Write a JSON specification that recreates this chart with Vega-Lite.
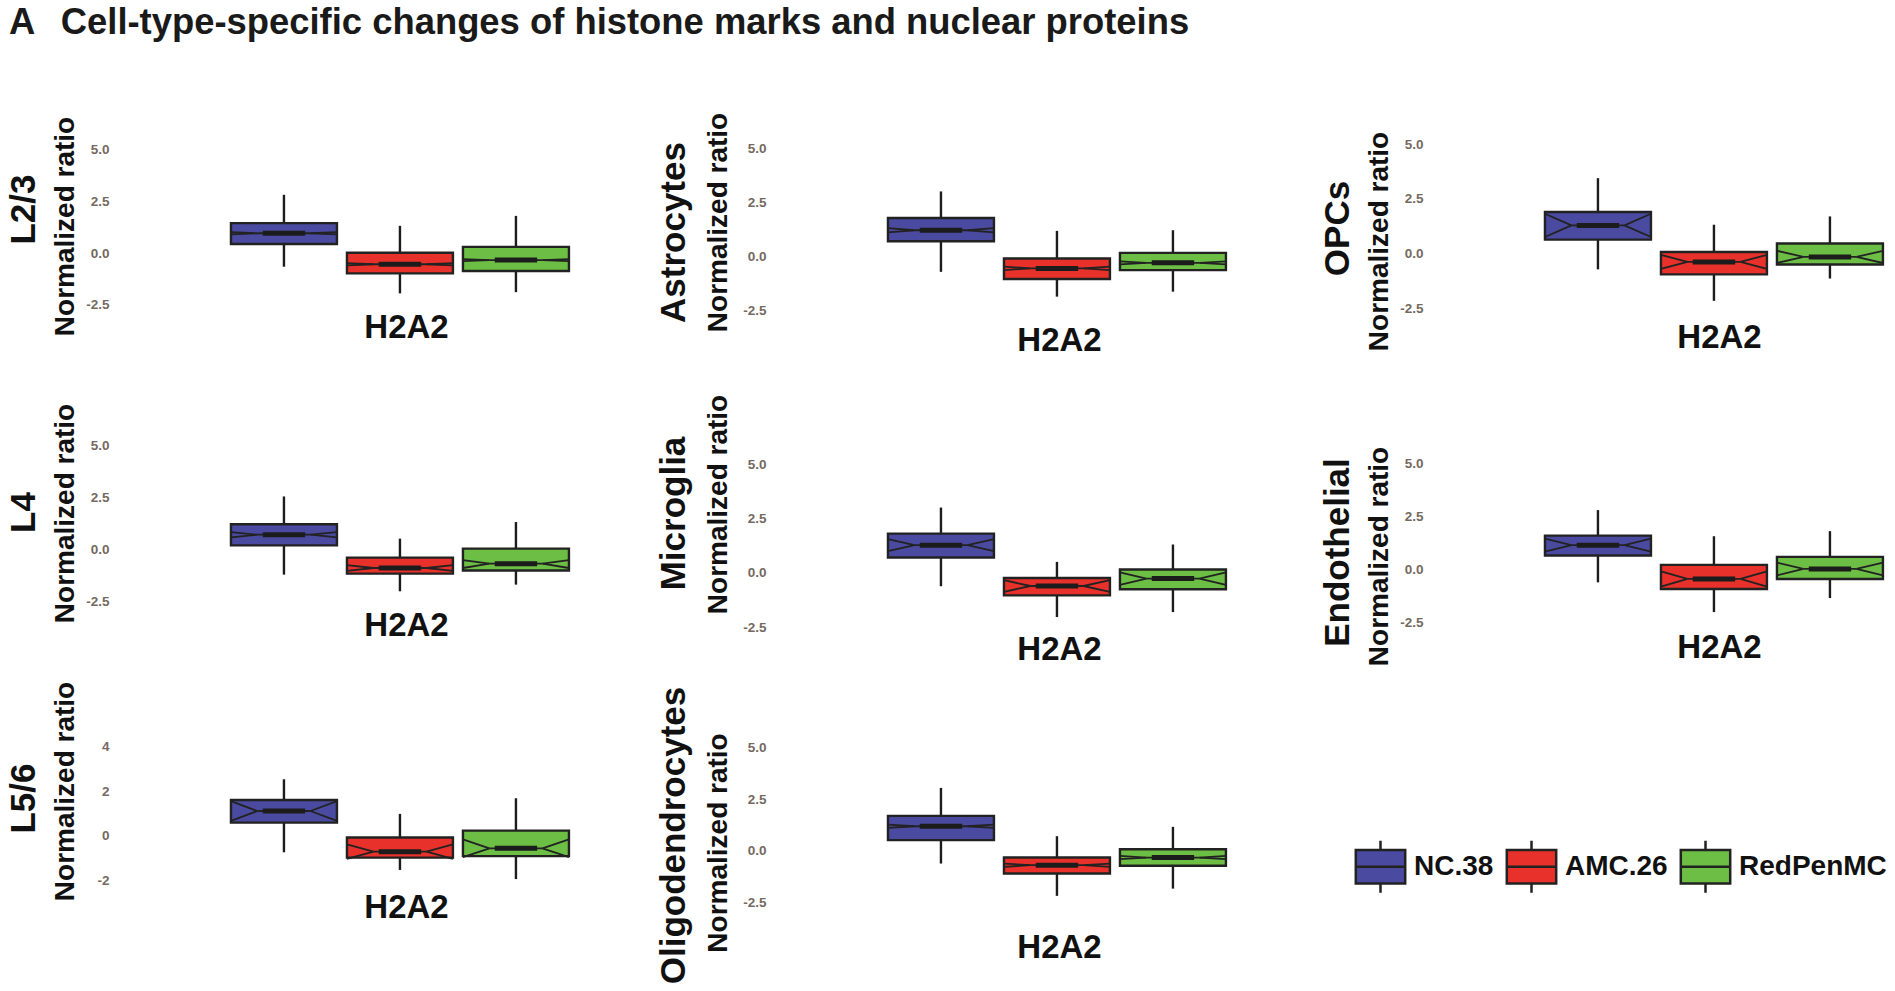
{
"$schema": "https://vega.github.io/schema/vega-lite/v6.json",
"padding": {"left": 6, "top": 4, "right": 0, "bottom": 0},
"background": "white",
"title": {"text": "A\u2002\u2009Cell-type-specific changes of histone marks and nuclear proteins", "anchor": "start", "frame": "bounds", "fontSize": 36.4, "fontWeight": "bold", "font": "Liberation Sans", "color": "#1a1a1a", "offset": 71.4, "dx": 3},
"datasets": {"boxes": [
{"cell": "L2/3", "group": "NC.38", "lo": -0.65, "q1": 0.45, "nlo": 0.92, "med": 0.97, "nhi": 1.02, "q3": 1.46, "hi": 2.83},
{"cell": "L2/3", "group": "AMC.26", "lo": -1.94, "q1": -0.97, "nlo": -0.58, "med": -0.53, "nhi": -0.48, "q3": 0.03, "hi": 1.33},
{"cell": "L2/3", "group": "RedPenMC", "lo": -1.88, "q1": -0.86, "nlo": -0.38, "med": -0.33, "nhi": -0.28, "q3": 0.31, "hi": 1.81},
{"cell": "Astrocytes", "group": "NC.38", "lo": -0.73, "q1": 0.69, "nlo": 1.1, "med": 1.2, "nhi": 1.3, "q3": 1.77, "hi": 3.0},
{"cell": "Astrocytes", "group": "AMC.26", "lo": -1.88, "q1": -1.06, "nlo": -0.65, "med": -0.57, "nhi": -0.49, "q3": -0.11, "hi": 1.17},
{"cell": "Astrocytes", "group": "RedPenMC", "lo": -1.65, "q1": -0.65, "nlo": -0.38, "med": -0.31, "nhi": -0.24, "q3": 0.15, "hi": 1.2},
{"cell": "OPCs", "group": "NC.38", "lo": -0.72, "q1": 0.64, "nlo": 0.76, "med": 1.29, "nhi": 1.82, "q3": 1.9, "hi": 3.45},
{"cell": "OPCs", "group": "AMC.26", "lo": -2.16, "q1": -0.95, "nlo": -0.7, "med": -0.38, "nhi": -0.06, "q3": 0.07, "hi": 1.32},
{"cell": "OPCs", "group": "RedPenMC", "lo": -1.14, "q1": -0.5, "nlo": -0.43, "med": -0.15, "nhi": 0.13, "q3": 0.46, "hi": 1.7},
{"cell": "L4", "group": "NC.38", "lo": -1.2, "q1": 0.21, "nlo": 0.59, "med": 0.72, "nhi": 0.85, "q3": 1.22, "hi": 2.56},
{"cell": "L4", "group": "AMC.26", "lo": -2.0, "q1": -1.15, "nlo": -1.02, "med": -0.88, "nhi": -0.74, "q3": -0.38, "hi": 0.53},
{"cell": "L4", "group": "RedPenMC", "lo": -1.68, "q1": -1.0, "nlo": -0.88, "med": -0.67, "nhi": -0.5, "q3": 0.05, "hi": 1.33},
{"cell": "Microglia", "group": "NC.38", "lo": -0.61, "q1": 0.71, "nlo": 1.0, "med": 1.28, "nhi": 1.56, "q3": 1.81, "hi": 3.01},
{"cell": "Microglia", "group": "AMC.26", "lo": -2.03, "q1": -1.03, "nlo": -0.87, "med": -0.6, "nhi": -0.33, "q3": -0.23, "hi": 0.51},
{"cell": "Microglia", "group": "RedPenMC", "lo": -1.8, "q1": -0.75, "nlo": -0.55, "med": -0.26, "nhi": 0.03, "q3": 0.16, "hi": 1.31},
{"cell": "Endothelial", "group": "NC.38", "lo": -0.6, "q1": 0.66, "nlo": 0.84, "med": 1.15, "nhi": 1.46, "q3": 1.6, "hi": 2.8},
{"cell": "Endothelial", "group": "AMC.26", "lo": -2.0, "q1": -0.91, "nlo": -0.8, "med": -0.44, "nhi": -0.08, "q3": 0.22, "hi": 1.57},
{"cell": "Endothelial", "group": "RedPenMC", "lo": -1.34, "q1": -0.44, "nlo": -0.27, "med": 0.03, "nhi": 0.33, "q3": 0.6, "hi": 1.81},
{"cell": "L5/6", "group": "NC.38", "lo": -0.73, "q1": 0.6, "nlo": 0.68, "med": 1.12, "nhi": 1.56, "q3": 1.61, "hi": 2.54},
{"cell": "L5/6", "group": "AMC.26", "lo": -1.52, "q1": -0.97, "nlo": -1.02, "med": -0.7, "nhi": -0.38, "q3": -0.07, "hi": 0.99},
{"cell": "L5/6", "group": "RedPenMC", "lo": -1.93, "q1": -0.9, "nlo": -0.95, "med": -0.55, "nhi": -0.15, "q3": 0.24, "hi": 1.69},
{"cell": "Oligodendrocytes", "group": "NC.38", "lo": -0.61, "q1": 0.52, "nlo": 1.11, "med": 1.19, "nhi": 1.27, "q3": 1.69, "hi": 3.04},
{"cell": "Oligodendrocytes", "group": "AMC.26", "lo": -2.17, "q1": -1.09, "nlo": -0.77, "med": -0.69, "nhi": -0.61, "q3": -0.32, "hi": 0.71},
{"cell": "Oligodendrocytes", "group": "RedPenMC", "lo": -1.82, "q1": -0.72, "nlo": -0.4, "med": -0.32, "nhi": -0.24, "q3": 0.08, "hi": 1.16}
]},
"data": {"name": "boxes"},
"columns": 3,
"spacing": {"row": 100, "column": 195},
"bounds": "flush",
"concat": [
{"width": 462, "height": 190,
 "transform": [{"filter": {"field": "cell", "equal": "L2/3"}}],
 "resolve": {"axis": {"x": "independent", "y": "independent"}},
 "layer": [
  {"mark": {"type": "rule", "color": "#1c1c1c", "strokeWidth": 2.4},
   "encoding": {
    "x": {"field": "group", "type": "nominal", "sort": ["NC.38","AMC.26","RedPenMC"], "scale": {"paddingInner": 0.0862, "paddingOuter": 0.5346, "align": 0.935}, "axis": {"orient": "bottom", "title": "H2A2", "labels": false, "titleX": 291, "titleY": 19, "titleAlign": "center", "titleBaseline": "alphabetic", "titleAngle": 0, "titleFontSize": 33}},
    "y": {"field": "lo", "type": "quantitative", "scale": {"domain": [-3.131, 6.063], "nice": false, "zero": false}, "axis": {"title": "Normalized ratio", "values": [-2.5, 0, 2.5, 5], "labelExpr": "datum.value < 0 ? '-' + format(-datum.value, '.1f') : format(datum.value, '.1f')", "titleX": -42, "titleY": 98, "titleAngle": -90, "titleAlign": "center", "titleBaseline": "alphabetic", "titleFontSize": 28}},
    "y2": {"field": "hi"}}},
  {"mark": {"type": "bar", "stroke": "#222222", "strokeWidth": 2.4},
   "encoding": {
    "x": {"field": "group", "type": "nominal", "sort": ["NC.38","AMC.26","RedPenMC"], "axis": {"orient": "top", "title": "L2/3", "labels": false, "titleX": -81, "titleY": 81, "titleAngle": -90, "titleAlign": "center", "titleBaseline": "alphabetic", "titleFontSize": 35}},
    "y": {"field": "q1", "type": "quantitative", "axis": null},
    "y2": {"field": "q3"},
    "color": {"field": "group", "type": "nominal", "sort": ["NC.38","AMC.26","RedPenMC"], "scale": {"domain": ["NC.38","AMC.26","RedPenMC"], "range": ["#4a4aa0","#e8312a","#6cbe45"]}, "legend": {"orient": "none", "legendX": 1238, "legendY": 711, "title": null, "direction": "horizontal"}}}},
  {"transform": [{"fold": ["nlo","nhi"], "as": ["k","nv"]}],
   "mark": {"type": "rule", "color": "#222222", "strokeWidth": 1.8},
   "encoding": {"x": {"field": "group", "type": "nominal", "sort": ["NC.38","AMC.26","RedPenMC"], "bandPosition": 0, "axis": null}, "x2": {"field": "group", "bandPosition": 0.25}, "y": {"field": "nv", "type": "quantitative", "axis": null}, "y2": {"field": "med"}}},
  {"transform": [{"fold": ["nlo","nhi"], "as": ["k","nv"]}],
   "mark": {"type": "rule", "color": "#222222", "strokeWidth": 1.8},
   "encoding": {"x": {"field": "group", "type": "nominal", "sort": ["NC.38","AMC.26","RedPenMC"], "bandPosition": 1, "axis": null}, "x2": {"field": "group", "bandPosition": 0.75}, "y": {"field": "nv", "type": "quantitative", "axis": null}, "y2": {"field": "med"}}},
  {"mark": {"type": "rule", "color": "#222222", "strokeWidth": 1.8},
   "encoding": {"x": {"field": "group", "type": "nominal", "sort": ["NC.38","AMC.26","RedPenMC"], "bandPosition": 0.25, "axis": null}, "x2": {"field": "group", "bandPosition": 0.75}, "y": {"field": "med", "type": "quantitative", "axis": null}}},
  {"mark": {"type": "rule", "color": "#1c1c1c", "strokeWidth": 5},
   "encoding": {"x": {"field": "group", "type": "nominal", "sort": ["NC.38","AMC.26","RedPenMC"], "bandPosition": 0.3, "axis": null}, "x2": {"field": "group", "bandPosition": 0.7}, "y": {"field": "med", "type": "quantitative", "axis": null}}}
 ]},
{"width": 462, "height": 190,
 "transform": [{"filter": {"field": "cell", "equal": "Astrocytes"}}],
 "resolve": {"axis": {"x": "independent", "y": "independent"}},
 "layer": [
  {"mark": {"type": "rule", "color": "#1c1c1c", "strokeWidth": 2.4},
   "encoding": {
    "x": {"field": "group", "type": "nominal", "sort": ["NC.38","AMC.26","RedPenMC"], "scale": {"paddingInner": 0.0862, "paddingOuter": 0.5346, "align": 0.935}, "axis": {"orient": "bottom", "title": "H2A2", "labels": false, "titleX": 287, "titleY": 32, "titleAlign": "center", "titleBaseline": "alphabetic", "titleAngle": 0, "titleFontSize": 33}},
    "y": {"field": "lo", "type": "quantitative", "scale": {"domain": [-2.871, 5.942], "nice": false, "zero": false}, "axis": {"title": "Normalized ratio", "values": [-2.5, 0, 2.5, 5], "labelExpr": "datum.value < 0 ? '-' + format(-datum.value, '.1f') : format(datum.value, '.1f')", "titleX": -46, "titleY": 94, "titleAngle": -90, "titleAlign": "center", "titleBaseline": "alphabetic", "titleFontSize": 28}},
    "y2": {"field": "hi"}}},
  {"mark": {"type": "bar", "stroke": "#222222", "strokeWidth": 2.4},
   "encoding": {
    "x": {"field": "group", "type": "nominal", "sort": ["NC.38","AMC.26","RedPenMC"], "axis": {"orient": "top", "title": "Astrocytes", "labels": false, "titleX": -88, "titleY": 104, "titleAngle": -90, "titleAlign": "center", "titleBaseline": "alphabetic", "titleFontSize": 35}},
    "y": {"field": "q1", "type": "quantitative", "axis": null},
    "y2": {"field": "q3"},
    "color": {"field": "group", "type": "nominal", "sort": ["NC.38","AMC.26","RedPenMC"], "scale": {"domain": ["NC.38","AMC.26","RedPenMC"], "range": ["#4a4aa0","#e8312a","#6cbe45"]}, "legend": {"orient": "none", "legendX": 1238, "legendY": 711, "title": null, "direction": "horizontal"}}}},
  {"transform": [{"fold": ["nlo","nhi"], "as": ["k","nv"]}],
   "mark": {"type": "rule", "color": "#222222", "strokeWidth": 1.8},
   "encoding": {"x": {"field": "group", "type": "nominal", "sort": ["NC.38","AMC.26","RedPenMC"], "bandPosition": 0, "axis": null}, "x2": {"field": "group", "bandPosition": 0.25}, "y": {"field": "nv", "type": "quantitative", "axis": null}, "y2": {"field": "med"}}},
  {"transform": [{"fold": ["nlo","nhi"], "as": ["k","nv"]}],
   "mark": {"type": "rule", "color": "#222222", "strokeWidth": 1.8},
   "encoding": {"x": {"field": "group", "type": "nominal", "sort": ["NC.38","AMC.26","RedPenMC"], "bandPosition": 1, "axis": null}, "x2": {"field": "group", "bandPosition": 0.75}, "y": {"field": "nv", "type": "quantitative", "axis": null}, "y2": {"field": "med"}}},
  {"mark": {"type": "rule", "color": "#222222", "strokeWidth": 1.8},
   "encoding": {"x": {"field": "group", "type": "nominal", "sort": ["NC.38","AMC.26","RedPenMC"], "bandPosition": 0.25, "axis": null}, "x2": {"field": "group", "bandPosition": 0.75}, "y": {"field": "med", "type": "quantitative", "axis": null}}},
  {"mark": {"type": "rule", "color": "#1c1c1c", "strokeWidth": 5},
   "encoding": {"x": {"field": "group", "type": "nominal", "sort": ["NC.38","AMC.26","RedPenMC"], "bandPosition": 0.3, "axis": null}, "x2": {"field": "group", "bandPosition": 0.7}, "y": {"field": "med", "type": "quantitative", "axis": null}}}
 ]},
{"width": 462, "height": 190,
 "transform": [{"filter": {"field": "cell", "equal": "OPCs"}}],
 "resolve": {"axis": {"x": "independent", "y": "independent"}},
 "layer": [
  {"mark": {"type": "rule", "color": "#1c1c1c", "strokeWidth": 2.4},
   "encoding": {
    "x": {"field": "group", "type": "nominal", "sort": ["NC.38","AMC.26","RedPenMC"], "scale": {"paddingInner": 0.0862, "paddingOuter": 0.5346, "align": 0.935}, "axis": {"orient": "bottom", "title": "H2A2", "labels": false, "titleX": 290, "titleY": 29, "titleAlign": "center", "titleBaseline": "alphabetic", "titleAngle": 0, "titleFontSize": 33}},
    "y": {"field": "lo", "type": "quantitative", "scale": {"domain": [-2.945, 5.743], "nice": false, "zero": false}, "axis": {"title": "Normalized ratio", "values": [-2.5, 0, 2.5, 5], "labelExpr": "datum.value < 0 ? '-' + format(-datum.value, '.1f') : format(datum.value, '.1f')", "titleX": -42, "titleY": 113, "titleAngle": -90, "titleAlign": "center", "titleBaseline": "alphabetic", "titleFontSize": 28}},
    "y2": {"field": "hi"}}},
  {"mark": {"type": "bar", "stroke": "#222222", "strokeWidth": 2.4},
   "encoding": {
    "x": {"field": "group", "type": "nominal", "sort": ["NC.38","AMC.26","RedPenMC"], "axis": {"orient": "top", "title": "OPCs", "labels": false, "titleX": -81, "titleY": 100, "titleAngle": -90, "titleAlign": "center", "titleBaseline": "alphabetic", "titleFontSize": 35}},
    "y": {"field": "q1", "type": "quantitative", "axis": null},
    "y2": {"field": "q3"},
    "color": {"field": "group", "type": "nominal", "sort": ["NC.38","AMC.26","RedPenMC"], "scale": {"domain": ["NC.38","AMC.26","RedPenMC"], "range": ["#4a4aa0","#e8312a","#6cbe45"]}, "legend": {"orient": "none", "legendX": 1238, "legendY": 711, "title": null, "direction": "horizontal"}}}},
  {"transform": [{"fold": ["nlo","nhi"], "as": ["k","nv"]}],
   "mark": {"type": "rule", "color": "#222222", "strokeWidth": 1.8},
   "encoding": {"x": {"field": "group", "type": "nominal", "sort": ["NC.38","AMC.26","RedPenMC"], "bandPosition": 0, "axis": null}, "x2": {"field": "group", "bandPosition": 0.25}, "y": {"field": "nv", "type": "quantitative", "axis": null}, "y2": {"field": "med"}}},
  {"transform": [{"fold": ["nlo","nhi"], "as": ["k","nv"]}],
   "mark": {"type": "rule", "color": "#222222", "strokeWidth": 1.8},
   "encoding": {"x": {"field": "group", "type": "nominal", "sort": ["NC.38","AMC.26","RedPenMC"], "bandPosition": 1, "axis": null}, "x2": {"field": "group", "bandPosition": 0.75}, "y": {"field": "nv", "type": "quantitative", "axis": null}, "y2": {"field": "med"}}},
  {"mark": {"type": "rule", "color": "#222222", "strokeWidth": 1.8},
   "encoding": {"x": {"field": "group", "type": "nominal", "sort": ["NC.38","AMC.26","RedPenMC"], "bandPosition": 0.25, "axis": null}, "x2": {"field": "group", "bandPosition": 0.75}, "y": {"field": "med", "type": "quantitative", "axis": null}}},
  {"mark": {"type": "rule", "color": "#1c1c1c", "strokeWidth": 5},
   "encoding": {"x": {"field": "group", "type": "nominal", "sort": ["NC.38","AMC.26","RedPenMC"], "bandPosition": 0.3, "axis": null}, "x2": {"field": "group", "bandPosition": 0.7}, "y": {"field": "med", "type": "quantitative", "axis": null}}}
 ]},
{"width": 462, "height": 215,
 "transform": [{"filter": {"field": "cell", "equal": "L4"}}],
 "resolve": {"axis": {"x": "independent", "y": "independent"}},
 "layer": [
  {"mark": {"type": "rule", "color": "#1c1c1c", "strokeWidth": 2.4},
   "encoding": {
    "x": {"field": "group", "type": "nominal", "sort": ["NC.38","AMC.26","RedPenMC"], "scale": {"paddingInner": 0.0862, "paddingOuter": 0.5346, "align": 0.935}, "axis": {"orient": "bottom", "title": "H2A2", "labels": false, "titleX": 291, "titleY": 2, "titleAlign": "center", "titleBaseline": "alphabetic", "titleAngle": 0, "titleFontSize": 33}},
    "y": {"field": "lo", "type": "quantitative", "scale": {"domain": [-4.005, 6.332], "nice": false, "zero": false}, "axis": {"title": "Normalized ratio", "values": [-2.5, 0, 2.5, 5], "labelExpr": "datum.value < 0 ? '-' + format(-datum.value, '.1f') : format(datum.value, '.1f')", "titleX": -42, "titleY": 95, "titleAngle": -90, "titleAlign": "center", "titleBaseline": "alphabetic", "titleFontSize": 28}},
    "y2": {"field": "hi"}}},
  {"mark": {"type": "bar", "stroke": "#222222", "strokeWidth": 2.4},
   "encoding": {
    "x": {"field": "group", "type": "nominal", "sort": ["NC.38","AMC.26","RedPenMC"], "axis": {"orient": "top", "title": "L4", "labels": false, "titleX": -81, "titleY": 94, "titleAngle": -90, "titleAlign": "center", "titleBaseline": "alphabetic", "titleFontSize": 35}},
    "y": {"field": "q1", "type": "quantitative", "axis": null},
    "y2": {"field": "q3"},
    "color": {"field": "group", "type": "nominal", "sort": ["NC.38","AMC.26","RedPenMC"], "scale": {"domain": ["NC.38","AMC.26","RedPenMC"], "range": ["#4a4aa0","#e8312a","#6cbe45"]}, "legend": {"orient": "none", "legendX": 1238, "legendY": 711, "title": null, "direction": "horizontal"}}}},
  {"transform": [{"fold": ["nlo","nhi"], "as": ["k","nv"]}],
   "mark": {"type": "rule", "color": "#222222", "strokeWidth": 1.8},
   "encoding": {"x": {"field": "group", "type": "nominal", "sort": ["NC.38","AMC.26","RedPenMC"], "bandPosition": 0, "axis": null}, "x2": {"field": "group", "bandPosition": 0.25}, "y": {"field": "nv", "type": "quantitative", "axis": null}, "y2": {"field": "med"}}},
  {"transform": [{"fold": ["nlo","nhi"], "as": ["k","nv"]}],
   "mark": {"type": "rule", "color": "#222222", "strokeWidth": 1.8},
   "encoding": {"x": {"field": "group", "type": "nominal", "sort": ["NC.38","AMC.26","RedPenMC"], "bandPosition": 1, "axis": null}, "x2": {"field": "group", "bandPosition": 0.75}, "y": {"field": "nv", "type": "quantitative", "axis": null}, "y2": {"field": "med"}}},
  {"mark": {"type": "rule", "color": "#222222", "strokeWidth": 1.8},
   "encoding": {"x": {"field": "group", "type": "nominal", "sort": ["NC.38","AMC.26","RedPenMC"], "bandPosition": 0.25, "axis": null}, "x2": {"field": "group", "bandPosition": 0.75}, "y": {"field": "med", "type": "quantitative", "axis": null}}},
  {"mark": {"type": "rule", "color": "#1c1c1c", "strokeWidth": 5},
   "encoding": {"x": {"field": "group", "type": "nominal", "sort": ["NC.38","AMC.26","RedPenMC"], "bandPosition": 0.3, "axis": null}, "x2": {"field": "group", "bandPosition": 0.7}, "y": {"field": "med", "type": "quantitative", "axis": null}}}
 ]},
{"width": 462, "height": 215,
 "transform": [{"filter": {"field": "cell", "equal": "Microglia"}}],
 "resolve": {"axis": {"x": "independent", "y": "independent"}},
 "layer": [
  {"mark": {"type": "rule", "color": "#1c1c1c", "strokeWidth": 2.4},
   "encoding": {
    "x": {"field": "group", "type": "nominal", "sort": ["NC.38","AMC.26","RedPenMC"], "scale": {"paddingInner": 0.0862, "paddingOuter": 0.5346, "align": 0.935}, "axis": {"orient": "bottom", "title": "H2A2", "labels": false, "titleX": 287, "titleY": 26, "titleAlign": "center", "titleBaseline": "alphabetic", "titleAngle": 0, "titleFontSize": 33}},
    "y": {"field": "lo", "type": "quantitative", "scale": {"domain": [-2.763, 7.132], "nice": false, "zero": false}, "axis": {"title": "Normalized ratio", "values": [-2.5, 0, 2.5, 5], "labelExpr": "datum.value < 0 ? '-' + format(-datum.value, '.1f') : format(datum.value, '.1f')", "titleX": -46, "titleY": 86, "titleAngle": -90, "titleAlign": "center", "titleBaseline": "alphabetic", "titleFontSize": 28}},
    "y2": {"field": "hi"}}},
  {"mark": {"type": "bar", "stroke": "#222222", "strokeWidth": 2.4},
   "encoding": {
    "x": {"field": "group", "type": "nominal", "sort": ["NC.38","AMC.26","RedPenMC"], "axis": {"orient": "top", "title": "Microglia", "labels": false, "titleX": -88, "titleY": 95, "titleAngle": -90, "titleAlign": "center", "titleBaseline": "alphabetic", "titleFontSize": 35}},
    "y": {"field": "q1", "type": "quantitative", "axis": null},
    "y2": {"field": "q3"},
    "color": {"field": "group", "type": "nominal", "sort": ["NC.38","AMC.26","RedPenMC"], "scale": {"domain": ["NC.38","AMC.26","RedPenMC"], "range": ["#4a4aa0","#e8312a","#6cbe45"]}, "legend": {"orient": "none", "legendX": 1238, "legendY": 711, "title": null, "direction": "horizontal"}}}},
  {"transform": [{"fold": ["nlo","nhi"], "as": ["k","nv"]}],
   "mark": {"type": "rule", "color": "#222222", "strokeWidth": 1.8},
   "encoding": {"x": {"field": "group", "type": "nominal", "sort": ["NC.38","AMC.26","RedPenMC"], "bandPosition": 0, "axis": null}, "x2": {"field": "group", "bandPosition": 0.25}, "y": {"field": "nv", "type": "quantitative", "axis": null}, "y2": {"field": "med"}}},
  {"transform": [{"fold": ["nlo","nhi"], "as": ["k","nv"]}],
   "mark": {"type": "rule", "color": "#222222", "strokeWidth": 1.8},
   "encoding": {"x": {"field": "group", "type": "nominal", "sort": ["NC.38","AMC.26","RedPenMC"], "bandPosition": 1, "axis": null}, "x2": {"field": "group", "bandPosition": 0.75}, "y": {"field": "nv", "type": "quantitative", "axis": null}, "y2": {"field": "med"}}},
  {"mark": {"type": "rule", "color": "#222222", "strokeWidth": 1.8},
   "encoding": {"x": {"field": "group", "type": "nominal", "sort": ["NC.38","AMC.26","RedPenMC"], "bandPosition": 0.25, "axis": null}, "x2": {"field": "group", "bandPosition": 0.75}, "y": {"field": "med", "type": "quantitative", "axis": null}}},
  {"mark": {"type": "rule", "color": "#1c1c1c", "strokeWidth": 5},
   "encoding": {"x": {"field": "group", "type": "nominal", "sort": ["NC.38","AMC.26","RedPenMC"], "bandPosition": 0.3, "axis": null}, "x2": {"field": "group", "bandPosition": 0.7}, "y": {"field": "med", "type": "quantitative", "axis": null}}}
 ]},
{"width": 462, "height": 215,
 "transform": [{"filter": {"field": "cell", "equal": "Endothelial"}}],
 "resolve": {"axis": {"x": "independent", "y": "independent"}},
 "layer": [
  {"mark": {"type": "rule", "color": "#1c1c1c", "strokeWidth": 2.4},
   "encoding": {
    "x": {"field": "group", "type": "nominal", "sort": ["NC.38","AMC.26","RedPenMC"], "scale": {"paddingInner": 0.0862, "paddingOuter": 0.5346, "align": 0.935}, "axis": {"orient": "bottom", "title": "H2A2", "labels": false, "titleX": 290, "titleY": 24, "titleAlign": "center", "titleBaseline": "alphabetic", "titleAngle": 0, "titleFontSize": 33}},
    "y": {"field": "lo", "type": "quantitative", "scale": {"domain": [-2.984, 7.134], "nice": false, "zero": false}, "axis": {"title": "Normalized ratio", "values": [-2.5, 0, 2.5, 5], "labelExpr": "datum.value < 0 ? '-' + format(-datum.value, '.1f') : format(datum.value, '.1f')", "titleX": -42, "titleY": 138, "titleAngle": -90, "titleAlign": "center", "titleBaseline": "alphabetic", "titleFontSize": 28}},
    "y2": {"field": "hi"}}},
  {"mark": {"type": "bar", "stroke": "#222222", "strokeWidth": 2.4},
   "encoding": {
    "x": {"field": "group", "type": "nominal", "sort": ["NC.38","AMC.26","RedPenMC"], "axis": {"orient": "top", "title": "Endothelial", "labels": false, "titleX": -81, "titleY": 134, "titleAngle": -90, "titleAlign": "center", "titleBaseline": "alphabetic", "titleFontSize": 35}},
    "y": {"field": "q1", "type": "quantitative", "axis": null},
    "y2": {"field": "q3"},
    "color": {"field": "group", "type": "nominal", "sort": ["NC.38","AMC.26","RedPenMC"], "scale": {"domain": ["NC.38","AMC.26","RedPenMC"], "range": ["#4a4aa0","#e8312a","#6cbe45"]}, "legend": {"orient": "none", "legendX": 1238, "legendY": 711, "title": null, "direction": "horizontal"}}}},
  {"transform": [{"fold": ["nlo","nhi"], "as": ["k","nv"]}],
   "mark": {"type": "rule", "color": "#222222", "strokeWidth": 1.8},
   "encoding": {"x": {"field": "group", "type": "nominal", "sort": ["NC.38","AMC.26","RedPenMC"], "bandPosition": 0, "axis": null}, "x2": {"field": "group", "bandPosition": 0.25}, "y": {"field": "nv", "type": "quantitative", "axis": null}, "y2": {"field": "med"}}},
  {"transform": [{"fold": ["nlo","nhi"], "as": ["k","nv"]}],
   "mark": {"type": "rule", "color": "#222222", "strokeWidth": 1.8},
   "encoding": {"x": {"field": "group", "type": "nominal", "sort": ["NC.38","AMC.26","RedPenMC"], "bandPosition": 1, "axis": null}, "x2": {"field": "group", "bandPosition": 0.75}, "y": {"field": "nv", "type": "quantitative", "axis": null}, "y2": {"field": "med"}}},
  {"mark": {"type": "rule", "color": "#222222", "strokeWidth": 1.8},
   "encoding": {"x": {"field": "group", "type": "nominal", "sort": ["NC.38","AMC.26","RedPenMC"], "bandPosition": 0.25, "axis": null}, "x2": {"field": "group", "bandPosition": 0.75}, "y": {"field": "med", "type": "quantitative", "axis": null}}},
  {"mark": {"type": "rule", "color": "#1c1c1c", "strokeWidth": 5},
   "encoding": {"x": {"field": "group", "type": "nominal", "sort": ["NC.38","AMC.26","RedPenMC"], "bandPosition": 0.3, "axis": null}, "x2": {"field": "group", "bandPosition": 0.7}, "y": {"field": "med", "type": "quantitative", "axis": null}}}
 ]},
{"width": 462, "height": 180,
 "transform": [{"filter": {"field": "cell", "equal": "L5/6"}}],
 "resolve": {"axis": {"x": "independent", "y": "independent"}},
 "layer": [
  {"mark": {"type": "rule", "color": "#1c1c1c", "strokeWidth": 2.4},
   "encoding": {
    "x": {"field": "group", "type": "nominal", "sort": ["NC.38","AMC.26","RedPenMC"], "scale": {"paddingInner": 0.0862, "paddingOuter": 0.5346, "align": 0.935}, "axis": {"orient": "bottom", "title": "H2A2", "labels": false, "titleX": 291, "titleY": 4, "titleAlign": "center", "titleBaseline": "alphabetic", "titleAngle": 0, "titleFontSize": 33}},
    "y": {"field": "lo", "type": "quantitative", "scale": {"domain": [-3.448, 4.612], "nice": false, "zero": false}, "axis": {"title": "Normalized ratio", "values": [-2, 0, 2, 4], "labelExpr": "datum.value < 0 ? '-' + format(-datum.value, 'd') : format(datum.value, 'd')", "titleX": -42, "titleY": 58, "titleAngle": -90, "titleAlign": "center", "titleBaseline": "alphabetic", "titleFontSize": 28}},
    "y2": {"field": "hi"}}},
  {"mark": {"type": "bar", "stroke": "#222222", "strokeWidth": 2.4},
   "encoding": {
    "x": {"field": "group", "type": "nominal", "sort": ["NC.38","AMC.26","RedPenMC"], "axis": {"orient": "top", "title": "L5/6", "labels": false, "titleX": -81, "titleY": 65, "titleAngle": -90, "titleAlign": "center", "titleBaseline": "alphabetic", "titleFontSize": 35}},
    "y": {"field": "q1", "type": "quantitative", "axis": null},
    "y2": {"field": "q3"},
    "color": {"field": "group", "type": "nominal", "sort": ["NC.38","AMC.26","RedPenMC"], "scale": {"domain": ["NC.38","AMC.26","RedPenMC"], "range": ["#4a4aa0","#e8312a","#6cbe45"]}, "legend": {"orient": "none", "legendX": 1238, "legendY": 711, "title": null, "direction": "horizontal"}}}},
  {"transform": [{"fold": ["nlo","nhi"], "as": ["k","nv"]}],
   "mark": {"type": "rule", "color": "#222222", "strokeWidth": 1.8},
   "encoding": {"x": {"field": "group", "type": "nominal", "sort": ["NC.38","AMC.26","RedPenMC"], "bandPosition": 0, "axis": null}, "x2": {"field": "group", "bandPosition": 0.25}, "y": {"field": "nv", "type": "quantitative", "axis": null}, "y2": {"field": "med"}}},
  {"transform": [{"fold": ["nlo","nhi"], "as": ["k","nv"]}],
   "mark": {"type": "rule", "color": "#222222", "strokeWidth": 1.8},
   "encoding": {"x": {"field": "group", "type": "nominal", "sort": ["NC.38","AMC.26","RedPenMC"], "bandPosition": 1, "axis": null}, "x2": {"field": "group", "bandPosition": 0.75}, "y": {"field": "nv", "type": "quantitative", "axis": null}, "y2": {"field": "med"}}},
  {"mark": {"type": "rule", "color": "#222222", "strokeWidth": 1.8},
   "encoding": {"x": {"field": "group", "type": "nominal", "sort": ["NC.38","AMC.26","RedPenMC"], "bandPosition": 0.25, "axis": null}, "x2": {"field": "group", "bandPosition": 0.75}, "y": {"field": "med", "type": "quantitative", "axis": null}}},
  {"mark": {"type": "rule", "color": "#1c1c1c", "strokeWidth": 5},
   "encoding": {"x": {"field": "group", "type": "nominal", "sort": ["NC.38","AMC.26","RedPenMC"], "bandPosition": 0.3, "axis": null}, "x2": {"field": "group", "bandPosition": 0.7}, "y": {"field": "med", "type": "quantitative", "axis": null}}}
 ]},
{"width": 462, "height": 180,
 "transform": [{"filter": {"field": "cell", "equal": "Oligodendrocytes"}}],
 "resolve": {"axis": {"x": "independent", "y": "independent"}},
 "layer": [
  {"mark": {"type": "rule", "color": "#1c1c1c", "strokeWidth": 2.4},
   "encoding": {
    "x": {"field": "group", "type": "nominal", "sort": ["NC.38","AMC.26","RedPenMC"], "scale": {"paddingInner": 0.0862, "paddingOuter": 0.5346, "align": 0.935}, "axis": {"orient": "bottom", "title": "H2A2", "labels": false, "titleX": 287, "titleY": 44, "titleAlign": "center", "titleBaseline": "alphabetic", "titleAngle": 0, "titleFontSize": 33}},
    "y": {"field": "lo", "type": "quantitative", "scale": {"domain": [-2.997, 5.69], "nice": false, "zero": false}, "axis": {"title": "Normalized ratio", "values": [-2.5, 0, 2.5, 5], "labelExpr": "datum.value < 0 ? '-' + format(-datum.value, '.1f') : format(datum.value, '.1f')", "titleX": -46, "titleY": 109.5, "titleAngle": -90, "titleAlign": "center", "titleBaseline": "alphabetic", "titleFontSize": 28}},
    "y2": {"field": "hi"}}},
  {"mark": {"type": "bar", "stroke": "#222222", "strokeWidth": 2.4},
   "encoding": {
    "x": {"field": "group", "type": "nominal", "sort": ["NC.38","AMC.26","RedPenMC"], "axis": {"orient": "top", "title": "Oligodendrocytes", "labels": false, "titleX": -88, "titleY": 102, "titleAngle": -90, "titleAlign": "center", "titleBaseline": "alphabetic", "titleFontSize": 35}},
    "y": {"field": "q1", "type": "quantitative", "axis": null},
    "y2": {"field": "q3"},
    "color": {"field": "group", "type": "nominal", "sort": ["NC.38","AMC.26","RedPenMC"], "scale": {"domain": ["NC.38","AMC.26","RedPenMC"], "range": ["#4a4aa0","#e8312a","#6cbe45"]}, "legend": {"orient": "none", "legendX": 1238, "legendY": 711, "title": null, "direction": "horizontal"}}}},
  {"transform": [{"fold": ["nlo","nhi"], "as": ["k","nv"]}],
   "mark": {"type": "rule", "color": "#222222", "strokeWidth": 1.8},
   "encoding": {"x": {"field": "group", "type": "nominal", "sort": ["NC.38","AMC.26","RedPenMC"], "bandPosition": 0, "axis": null}, "x2": {"field": "group", "bandPosition": 0.25}, "y": {"field": "nv", "type": "quantitative", "axis": null}, "y2": {"field": "med"}}},
  {"transform": [{"fold": ["nlo","nhi"], "as": ["k","nv"]}],
   "mark": {"type": "rule", "color": "#222222", "strokeWidth": 1.8},
   "encoding": {"x": {"field": "group", "type": "nominal", "sort": ["NC.38","AMC.26","RedPenMC"], "bandPosition": 1, "axis": null}, "x2": {"field": "group", "bandPosition": 0.75}, "y": {"field": "nv", "type": "quantitative", "axis": null}, "y2": {"field": "med"}}},
  {"mark": {"type": "rule", "color": "#222222", "strokeWidth": 1.8},
   "encoding": {"x": {"field": "group", "type": "nominal", "sort": ["NC.38","AMC.26","RedPenMC"], "bandPosition": 0.25, "axis": null}, "x2": {"field": "group", "bandPosition": 0.75}, "y": {"field": "med", "type": "quantitative", "axis": null}}},
  {"mark": {"type": "rule", "color": "#1c1c1c", "strokeWidth": 5},
   "encoding": {"x": {"field": "group", "type": "nominal", "sort": ["NC.38","AMC.26","RedPenMC"], "bandPosition": 0.3, "axis": null}, "x2": {"field": "group", "bandPosition": 0.7}, "y": {"field": "med", "type": "quantitative", "axis": null}}}
 ]}
],
"config": {
 "font": "Liberation Sans",
 "view": {"stroke": null},
 "axis": {"grid": false, "domain": false, "ticks": false, "labelFont": "Liberation Sans", "titleFont": "Liberation Sans", "titleFontWeight": "bold", "titleColor": "#111111", "labelFontWeight": "bold", "labelColor": "#75695f", "labelFontSize": 13.5, "labelPadding": 6},
 "legend": {"labelFont": "Liberation Sans", "labelFontSize": 28, "labelFontWeight": "bold", "labelColor": "#111111", "symbolType": "M-0.95,-0.64H0.95V0.64H-0.95Z M-0.95,0H0.95 M0,-1V-0.64 M0,0.64V1", "symbolSize": 2704, "symbolStrokeColor": "#222222", "symbolStrokeWidth": 2.5, "symbolOpacity": 1, "labelOffset": 6, "columnPadding": 7, "padding": 0, "labelLimit": 400}
}
}
